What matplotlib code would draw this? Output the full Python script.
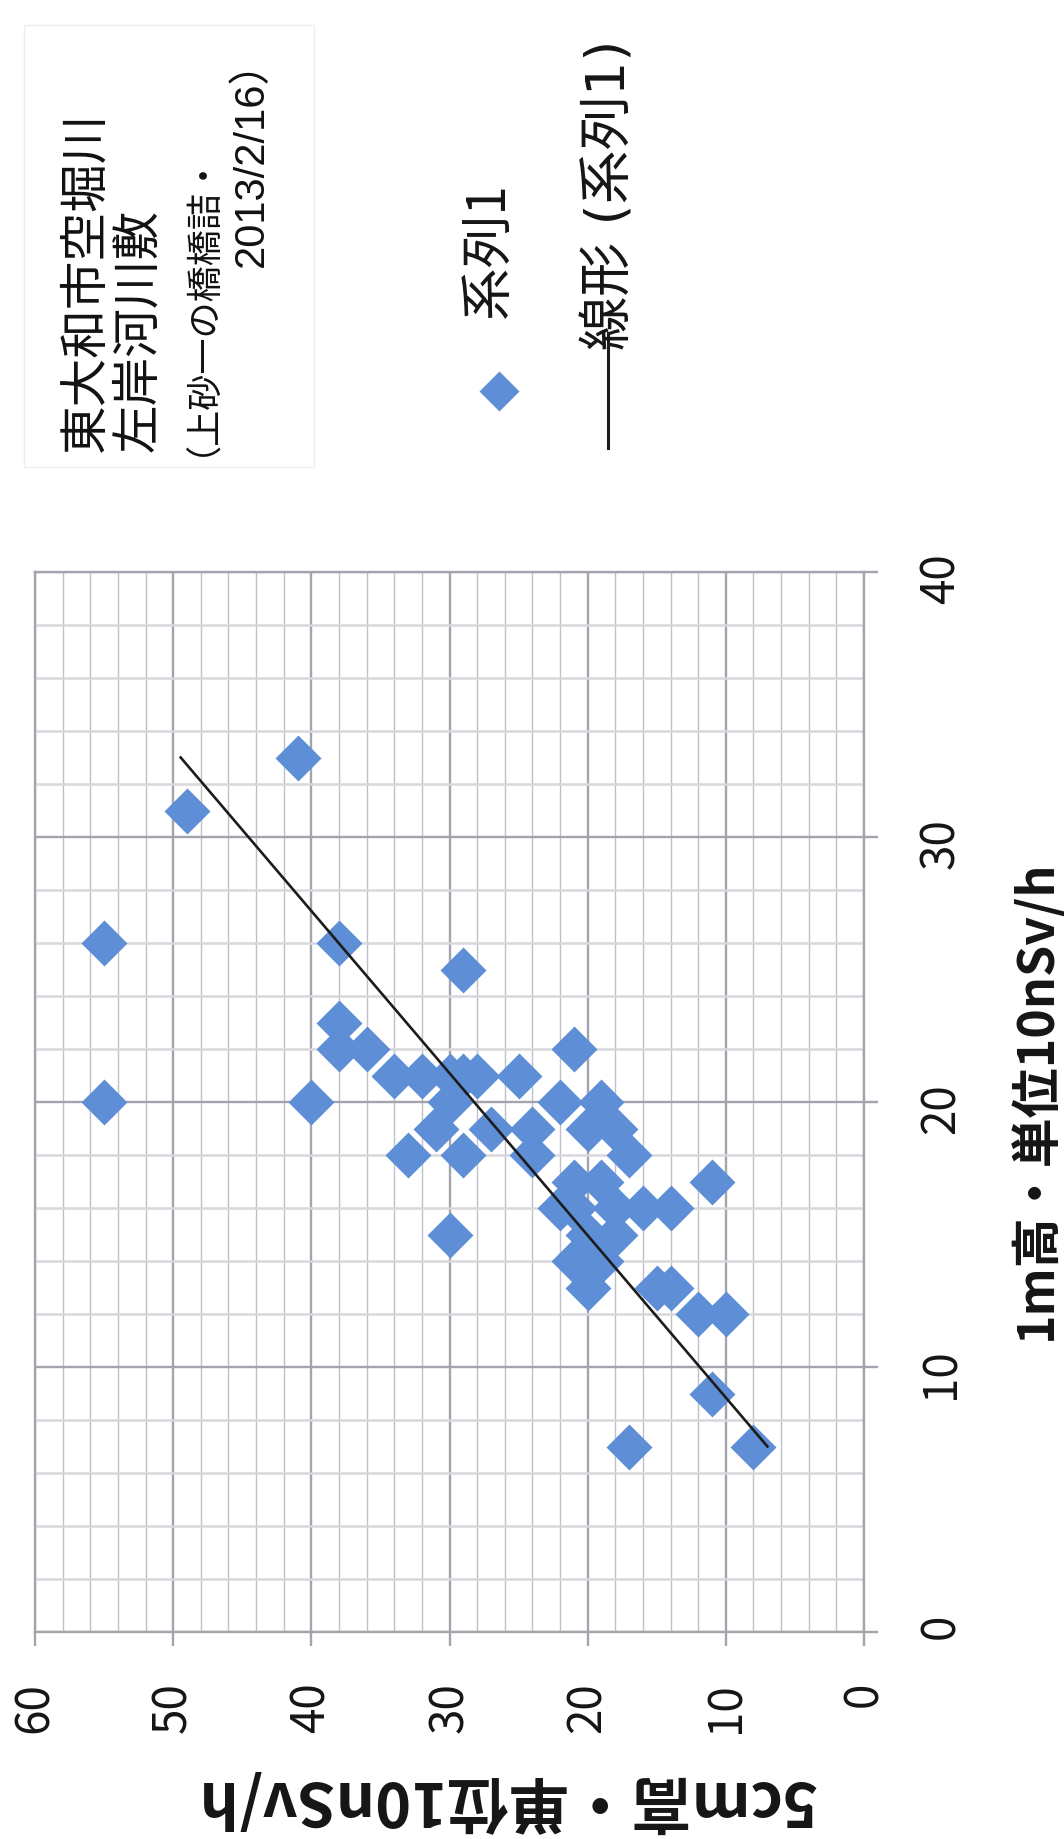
import numpy as np
import matplotlib
matplotlib.use('Agg')
import matplotlib.pyplot as plt
from matplotlib.ticker import MultipleLocator
from matplotlib.lines import Line2D
from matplotlib.patches import Rectangle

plt.rcParams['font.family'] = ['Noto Sans CJK JP', 'DejaVu Sans']

# ---- data: (5cm height value, 1m height value), unit 10nSv/h ----
cm5 = [41, 49, 55, 38, 29, 38, 38, 36, 55, 40,
       34, 32, 30, 29, 28, 25, 21,
       30, 31, 27, 33, 29,
       22, 19, 24, 20, 18, 24, 17,
       21, 19, 11,
       22, 21, 18, 16, 14,
       30, 18, 20,
       21, 19,
       20, 15, 14,
       12, 10,
       11, 17, 8]
m1 = [33, 31, 26, 26, 25, 23, 22, 22, 20, 20,
      21, 21, 21, 21, 21, 21, 22,
      20, 19, 19, 18, 18,
      20, 20, 19, 19, 19, 18, 18,
      17, 17, 17,
      16, 16, 16, 16, 16,
      15, 15, 15,
      14, 14,
      13, 13, 13,
      12, 12,
      9, 7, 7]

xticks_5cm = [60, 50, 40, 30, 20, 10, 0]
yticks_1m = [0, 10, 20, 30, 40]

title_lines = ['東大和市空堀川', '左岸河川敷', '（上砂一の橋橋詰・', '2013/2/16）']
legend_labels = ['系列1', '線形 (系列1)']
xlabel = '5cm高・単位10nSv/h'
ylabel = '1m高・単位10nSv/h'

W, H = 1064, 1839
fig = plt.figure(figsize=(W / 100, H / 100), dpi=100)
fig.patch.set_facecolor('white')


def fx(px):
    return px / W


def fy(py):
    return 1 - py / H


MARK = '#5d8ed6'
MAJ = '#a4a4ac'

L, R, T, B = 35, 864, 572, 1632
ax = fig.add_axes([L / W, 1 - B / H, (R - L) / W, (B - T) / H])
ax.set_xlim(60, 0)
ax.set_ylim(0, 40)
ax.set_xticks(xticks_5cm)
ax.set_yticks(yticks_1m)
ax.xaxis.set_minor_locator(MultipleLocator(2))
ax.yaxis.set_minor_locator(MultipleLocator(2))
ax.yaxis.tick_right()
ax.set_axisbelow(True)
ax.grid(which='major', color=MAJ, lw=1.7)
ax.xaxis.grid(which='minor', color='#c0c0c8', lw=1.0)
ax.yaxis.grid(which='minor', color='#d8d8dd', lw=1.8)
for s in ax.spines.values():
    s.set_color(MAJ)
    s.set_linewidth(1.7)
ax.tick_params(which='major', direction='out', length=10, width=1.7, color=MAJ,
               labelsize=33, labelcolor='#151515')
ax.tick_params(which='minor', length=0)
ax.tick_params(axis='x', labelrotation=90, pad=26)
ax.tick_params(axis='y', labelrotation=90, pad=28)

# data points
ax.plot(cm5, m1, ls='none', marker='D', ms=23, color=MARK, mec='none', zorder=3)

# linear trend line (5cm as function of 1m), over the 1m data range
a, b = np.polyfit(m1, cm5, 1)
yy = np.array([min(m1), max(m1)], dtype=float)
ax.plot(a * yy + b, yy, color='#1c1c1c', lw=1.9, zorder=4)

# axis titles
fig.text(fx(506), fy(1800), xlabel, rotation=180, ha='center', va='center',
         fontsize=44, fontweight='bold', color='#151515')
fig.text(fx(1035), fy(1100), ylabel, rotation=90, ha='center', va='center',
         fontsize=36, fontweight='bold', color='#151515')

# title box
fig.add_artist(Rectangle((fx(24), fy(467)), fx(314) - fx(24), fy(25) - fy(467),
                         transform=fig.transFigure, facecolor='white',
                         edgecolor='#efefef', lw=1))
fig.text(fx(86), fy(452), title_lines[0], rotation=90, rotation_mode='anchor',
         ha='left', va='center', fontsize=35, color='#111111')
fig.text(fx(138), fy(452), title_lines[1], rotation=90, rotation_mode='anchor',
         ha='left', va='center', fontsize=35, color='#111111')
fig.text(fx(183), fy(456), title_lines[2], rotation=90, rotation_mode='anchor',
         ha='left', va='center', fontsize=26, color='#111111')
fig.text(fx(252), fy(40), title_lines[3], rotation=90, rotation_mode='anchor',
         ha='right', va='center', fontsize=30, color='#111111',
         family=['Liberation Sans', 'Noto Sans CJK JP'])

# legend (rotated)
fig.add_artist(Line2D([fx(499)], [fy(391)], marker='D', ms=20, color=MARK, mec='none',
                      ls='none', transform=fig.transFigure))
fig.text(fx(488), fy(318), legend_labels[0], rotation=90, rotation_mode='anchor',
         ha='left', va='center', fontsize=38, color='#151515',
         family=['Noto Sans CJK JP', 'DejaVu Sans'])
fig.add_artist(Line2D([fx(608), fx(608)], [fy(448), fy(333)], color='#1c1c1c', lw=2.2,
                      transform=fig.transFigure))
fig.text(fx(610), fy(350), legend_labels[1], rotation=90, rotation_mode='anchor',
         ha='left', va='center', fontsize=39, color='#151515',
         family=['DejaVu Sans', 'Noto Sans CJK JP'])

fig.savefig('out.png', dpi=100, facecolor='white')
